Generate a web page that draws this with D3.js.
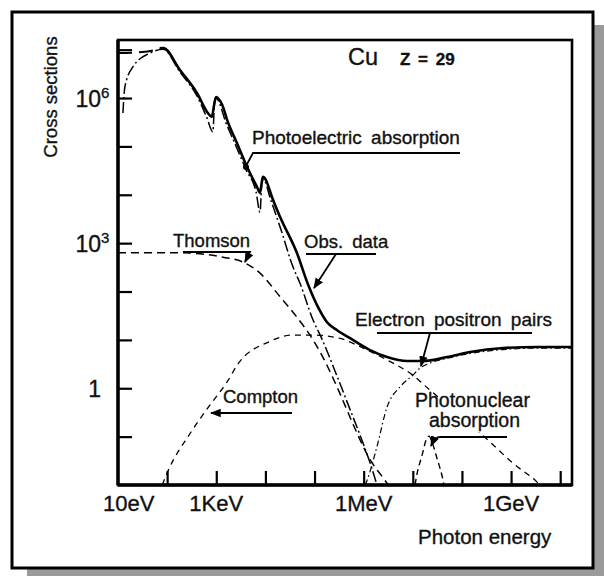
<!DOCTYPE html>
<html>
<head>
<meta charset="utf-8">
<script src="https://cdn.jsdelivr.net/npm/d3@7"></script>
<style>
  body { margin: 0; background: #fff; }
  text { font-family: "Liberation Sans", Arial, sans-serif; fill: #111; stroke: #111; stroke-width: 0.35px; }
</style>
</head>
<body>
<div id="chart"></div>
<script>
// values are log10(photon energy / eV) and log10(cross section)
const obsLow = [[1.0, 6.93], [1.5, 6.95], [1.9, 7.03]];
const obsData = [[1.85, 7.03], [1.92, 7.035], [2.26, 6.58], [2.61, 6.10], [2.83, 5.69], [2.91, 5.61],
  [2.955, 5.85], [2.995, 6.02], [3.05, 5.98], [3.12, 5.86], [3.22, 5.55], [3.42, 5.07], [3.63, 4.57],
  [3.83, 4.16], [3.89, 4.04], [3.925, 4.25], [3.95, 4.37], [3.99, 4.34], [4.03, 4.26], [4.135, 3.95],
  [4.30, 3.54], [4.64, 2.80], [4.87, 2.14], [5.09, 1.64], [5.25, 1.37], [5.46, 1.20], [5.78, 1.00],
  [6.13, 0.79], [6.475, 0.646], [6.88, 0.564], [7.21, 0.564], [7.70, 0.646], [8.165, 0.75],
  [8.84, 0.832], [9.53, 0.853], [10.24, 0.853]];
const photoelectric = [[1.10, 5.69], [1.14, 6.23], [1.30, 6.64], [1.65, 6.93], [1.92, 7.01], [2.26, 6.54],
  [2.61, 6.04], [2.81, 5.59], [2.93, 5.30], [2.97, 5.96], [3.00, 5.99], [3.20, 5.48], [3.40, 5.01],
  [3.61, 4.51], [3.81, 4.06], [3.89, 3.64], [3.93, 4.28], [3.96, 4.31], [4.11, 3.89], [4.32, 3.27],
  [4.56, 2.51], [4.70, 2.18], [4.97, 1.41], [5.15, 1.02], [5.40, 0.40], [5.70, -0.38], [6.00, -1.17],
  [6.15, -1.60], [6.27, -2.0]];
const thomson = [[1.0, 2.80], [2.26, 2.80], [3.14, 2.71], [3.54, 2.61], [3.89, 2.38], [4.30, 1.89],
  [4.64, 1.47], [4.97, 1.00], [5.27, 0.44], [5.50, -0.07], [5.80, -0.78], [6.11, -1.44], [6.43, -1.9],
  [6.50, -2.0]];
const compton = [[1.90, -2.0], [2.00, -1.75], [2.47, -0.93], [2.87, -0.35], [3.22, 0.13], [3.44, 0.50],
  [4.07, 0.96], [4.56, 1.10], [4.97, 1.10], [5.52, 1.03], [5.99, 0.83], [6.475, 0.585], [7.0, 0.27],
  [7.35, -0.04], [7.96, -0.55], [8.57, -1.11], [9.04, -1.55], [9.53, -1.94], [9.59, -2.0]];
const pairs = [[6.03, -2.0], [6.07, -1.9], [6.27, -1.21], [6.475, -0.39], [6.74, 0.03], [7.0, 0.27],
  [7.15, 0.42], [7.35, 0.52], [7.70, 0.62], [8.17, 0.72], [8.84, 0.80], [9.53, 0.83], [10.24, 0.83]];
const photonuclear = [[7.045, -2.0], [7.09, -1.75], [7.19, -1.38], [7.27, -1.07], [7.33, -0.99],
  [7.39, -1.11], [7.49, -1.44], [7.615, -1.9], [7.635, -2.0]];

const xTicks = [2, 3, 4, 5, 6, 7, 8, 9, 10];
const yTicks = [-1, 0, 1, 2, 3, 4, 5, 6, 7];
const xTickLabels = [[1, "10eV"], [3, "1KeV"], [6, "1MeV"], [9, "1GeV"]];
const yTickLabels = [[6, "10", "6"], [3, "10", "3"], [0, "1", ""]];

const width = 604;
const height = 576;
const mLeft = 118, mRight = 572, mTop = 40, mBottom = 485;

const svg = d3.select("#chart").append("svg")
    .attr("width", width)
    .attr("height", height);

// drop shadow + frame
svg.append("rect").attr("x", 27).attr("y", 25).attr("width", width - 27).attr("height", height - 25)
    .attr("fill", "#9a9a9a");
svg.append("rect").attr("x", 12).attr("y", 12).attr("width", 581).attr("height", 556)
    .attr("fill", "#fff").attr("stroke", "#000").attr("stroke-width", 3);

const x = d3.scaleLinear().domain([1, 10.24]).range([mLeft, mRight]);
const y = d3.scaleLinear().domain([-2, 7.2]).range([mBottom, mTop]);

const defs = svg.append("defs");
defs.append("clipPath").attr("id", "clip")
  .append("rect").attr("x", mLeft).attr("y", mTop).attr("width", mRight - mLeft).attr("height", mBottom - mTop);
defs.append("marker").attr("id", "arrow")
    .attr("viewBox", "0 0 10 10").attr("refX", 9).attr("refY", 5)
    .attr("markerWidth", 6).attr("markerHeight", 6).attr("orient", "auto-start-reverse")
  .append("path").attr("d", "M0,1 L10,5 L0,9 z").attr("fill", "#000");

const line = d3.line()
    .x(d => x(d[0]))
    .y(d => y(d[1]))
    .curve(d3.curveMonotoneX);

const plot = svg.append("g").attr("clip-path", "url(#clip)");

function curve(data, dash, w) {
  plot.append("path")
      .datum(data)
      .attr("d", line)
      .attr("fill", "none")
      .attr("stroke", "#000")
      .attr("stroke-width", w)
      .attr("stroke-dasharray", dash);
}

curve(compton, "6,5", 1.3);
curve(thomson, "8,5", 1.5);
curve(pairs, "6,3,1.5,3", 1.2);
curve(photonuclear, "6,4", 1.4);
curve(photoelectric, "11,3,2,3", 1.5);
curve(obsLow, "14,7", 2);
curve(obsData, null, 2.6);

// axes: ticks drawn inward
svg.append("g")
    .attr("transform", "translate(0," + mBottom + ")")
    .call(d3.axisBottom(x).tickValues(xTicks).tickSize(-14).tickFormat(""))
    .call(g => g.select(".domain").remove())
    .call(g => g.selectAll("line").attr("stroke-width", 2.2));
svg.append("g")
    .attr("transform", "translate(" + mLeft + ",0)")
    .call(d3.axisLeft(y).tickValues(yTicks).tickSize(-14).tickFormat(""))
    .call(g => g.select(".domain").remove())
    .call(g => g.selectAll("line").attr("stroke-width", 2.2));

svg.append("rect").attr("x", mLeft).attr("y", mTop).attr("width", mRight - mLeft).attr("height", mBottom - mTop)
    .attr("fill", "none").attr("stroke", "#000").attr("stroke-width", 2.6);
svg.append("line").attr("x1", mLeft).attr("x2", mLeft).attr("y1", mTop).attr("y2", mBottom)
    .attr("stroke", "#000").attr("stroke-width", 3.4);
svg.append("line").attr("x1", mLeft).attr("x2", mRight).attr("y1", mBottom).attr("y2", mBottom)
    .attr("stroke", "#000").attr("stroke-width", 3.4);

// tick labels
svg.selectAll(".xlab").data(xTickLabels).enter().append("text")
    .attr("x", d => d[0] === 1 ? x(d[0]) - 15 : x(d[0]))
    .attr("y", 511)
    .attr("text-anchor", d => d[0] === 1 ? "start" : "middle")
    .style("font-size", "22px")
    .text(d => d[1]);

svg.selectAll(".ylab").data(yTickLabels).enter().append("text")
    .attr("x", 101)
    .attr("y", d => y(d[0]) + 9)
    .attr("text-anchor", "end")
    .style("font-size", "23px")
    .text(d => d[1]);
svg.selectAll(".ysup").data(yTickLabels.filter(d => d[2])).enter().append("text")
    .attr("x", 101)
    .attr("y", d => y(d[0]))
    .style("font-size", "15px")
    .text(d => d[2]);

svg.append("text")
    .attr("transform", "translate(57,97) rotate(-90)")
    .attr("text-anchor", "middle")
    .style("font-size", "18.5px")
    .text("Cross sections");

svg.append("text").attr("x", 418).attr("y", 544).style("font-size", "20.5px").text("Photon energy");

svg.append("text").attr("x", 348).attr("y", 65).style("font-size", "23.5px").text("Cu");
svg.append("text").attr("x", 400).attr("y", 65).style("font-size", "17px").style("font-weight", "bold")
    .style("word-spacing", "3px").text("Z = 29");

// curve labels with underline leaders
function label(txt, tx, ty, size) {
  svg.append("text").attr("x", tx).attr("y", ty).style("font-size", size + "px")
      .style("word-spacing", "4px").text(txt);
}
function seg(d, arrow) {
  const p = svg.append("path").attr("d", d).attr("fill", "none")
      .attr("stroke", "#000").attr("stroke-width", 1.8);
  if (arrow) p.attr("marker-end", "url(#arrow)");
}

svg.append("rect").attr("x", 440).attr("y", 390).attr("width", 85).attr("height", 42).attr("fill", "#fff");

label("Photoelectric absorption", 252, 144, 19);
seg("M460,153 L253,153 L246,166", false);
svg.append("circle").attr("cx", 246).attr("cy", 167).attr("r", 3).attr("fill", "#000");

label("Thomson", 173, 247, 18.5);
seg("M183,252 L250,252 L245,262", true);

label("Obs. data", 304, 248, 18.5);
seg("M306,254 L376,254", false);
seg("M336,254 L314,288", true);

label("Electron positron pairs", 355, 326, 19);
seg("M377,333 L532,333", false);
seg("M430,333 L421,366", true);

label("Photonuclear", 415, 407, 19.5);
label("absorption", 429, 427, 19.5);
seg("M507,437 L440,437 Q435,437 431,446", true);

label("Compton", 223, 403, 18.5);
seg("M292,413 L211,413", true);
</script>
</body>
</html>
